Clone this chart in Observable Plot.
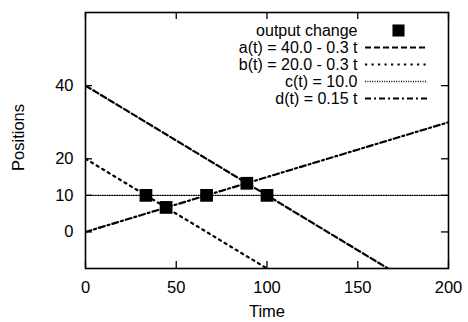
<!DOCTYPE html>
<html>
<head>
<meta charset="utf-8">
<script src="https://cdn.jsdelivr.net/npm/d3@7"></script>
<script src="https://cdn.jsdelivr.net/npm/@observablehq/plot@0.6"></script>
<style>
  html, body { margin: 0; padding: 0; background: #fff; }
</style>
</head>
<body>
<div id="chart"></div>
<script>
// ---- data ----
const timeEnds = [0, 200];
const aValues = [40, -20];   // a(t) = 40.0 - 0.3 t
const bValues = [20, -40];   // b(t) = 20.0 - 0.3 t
const cValues = [10, 10];    // c(t) = 10.0
const dValues = [0, 30];     // d(t) = 0.15 t
const changeTimes = [33.3, 44.4, 66.7, 88.9, 100];
const changeValues = [10, 6.7, 10, 13.3, 10];
const xTicks = [0, 50, 100, 150, 200];
const yTicks = [0, 10, 20, 40];
const seriesLabels = ["a(t) = 40.0 - 0.3 t", "b(t) = 20.0 - 0.3 t", "c(t) = 10.0", "d(t) = 0.15 t"];
const pointLabel = "output change";

// ---- styles ----
const seriesValues = [aValues, bValues, cValues, dValues];
const dashes = ["6,3", "2.2,4.3", "1,1.4", "6,3,2,3"];
const widths = [2.2, 2.2, 1.4, 2.2];

const points = changeTimes.map((t, i) => ({t, v: changeValues[i]}));

const marks = [];
seriesValues.forEach((vals, k) => {
  const rows = timeEnds.map((t, i) => ({t, v: vals[i]}));
  marks.push(Plot.line(rows, {x: "t", y: "v", stroke: "black", strokeWidth: widths[k],
    strokeDasharray: dashes[k], clip: true}));
});
marks.push(Plot.dot(points, {x: "t", y: "v", symbol: "square", r: 7.2, fill: "black", stroke: null}));
marks.push(Plot.frame({stroke: "black", strokeWidth: 1.6}));
// inward ticks
marks.push(Plot.tickX(xTicks, {x: d => d, insetTop: 249, stroke: "black", strokeWidth: 1.3}));
marks.push(Plot.tickX(xTicks, {x: d => d, insetBottom: 249, stroke: "black", strokeWidth: 1.3}));
marks.push(Plot.tickY(yTicks, {y: d => d, insetRight: 356, stroke: "black", strokeWidth: 1.3}));
marks.push(Plot.tickY(yTicks, {y: d => d, insetLeft: 356, stroke: "black", strokeWidth: 1.3}));
// axes labels
marks.push(Plot.axisX(xTicks, {anchor: "bottom", tickSize: 0, tickPadding: 13, label: null}));
marks.push(Plot.axisY(yTicks, {anchor: "left", tickSize: 0, tickPadding: 12, label: null}));
marks.push(Plot.text(["Positions"], {frameAnchor: "left", dx: -67, dy: -3, rotate: -90,
  textAnchor: "middle", lineAnchor: "middle"}));
marks.push(Plot.text(["Time"], {frameAnchor: "bottom", dy: 43, textAnchor: "middle", lineAnchor: "middle"}));
// legend
const rowDy = [18, 35, 52, 69, 86];
marks.push(Plot.text([pointLabel], {frameAnchor: "top-right", dx: -91, dy: rowDy[0],
  textAnchor: "end", lineAnchor: "middle", fontSize: 16}));
marks.push(Plot.dot([0], {frameAnchor: "top-right", dx: -50, dy: rowDy[0], symbol: "square", r: 6.8, fill: "black", stroke: null}));
seriesLabels.forEach((lab, k) => {
  marks.push(Plot.text([lab], {frameAnchor: "top-right", dx: -91, dy: rowDy[k + 1],
    textAnchor: "end", lineAnchor: "middle", fontSize: 16}));
  marks.push(Plot.tickY([60], {y: d => d, dy: rowDy[k + 1], insetLeft: 280, insetRight: 21,
    stroke: "black", strokeWidth: widths[k], strokeDasharray: dashes[k]}));
});

const chart = Plot.plot({
  width: 468,
  height: 322,
  marginLeft: 85,
  marginRight: 20,
  marginTop: 12,
  marginBottom: 54,
  style: {fontFamily: "'Liberation Sans', Arial, sans-serif", fontSize: "16.5px", background: "white", color: "black"},
  x: {domain: [0, 200]},
  y: {domain: [-10, 60]},
  marks
});
document.getElementById("chart").appendChild(chart);
</script>
</body>
</html>
